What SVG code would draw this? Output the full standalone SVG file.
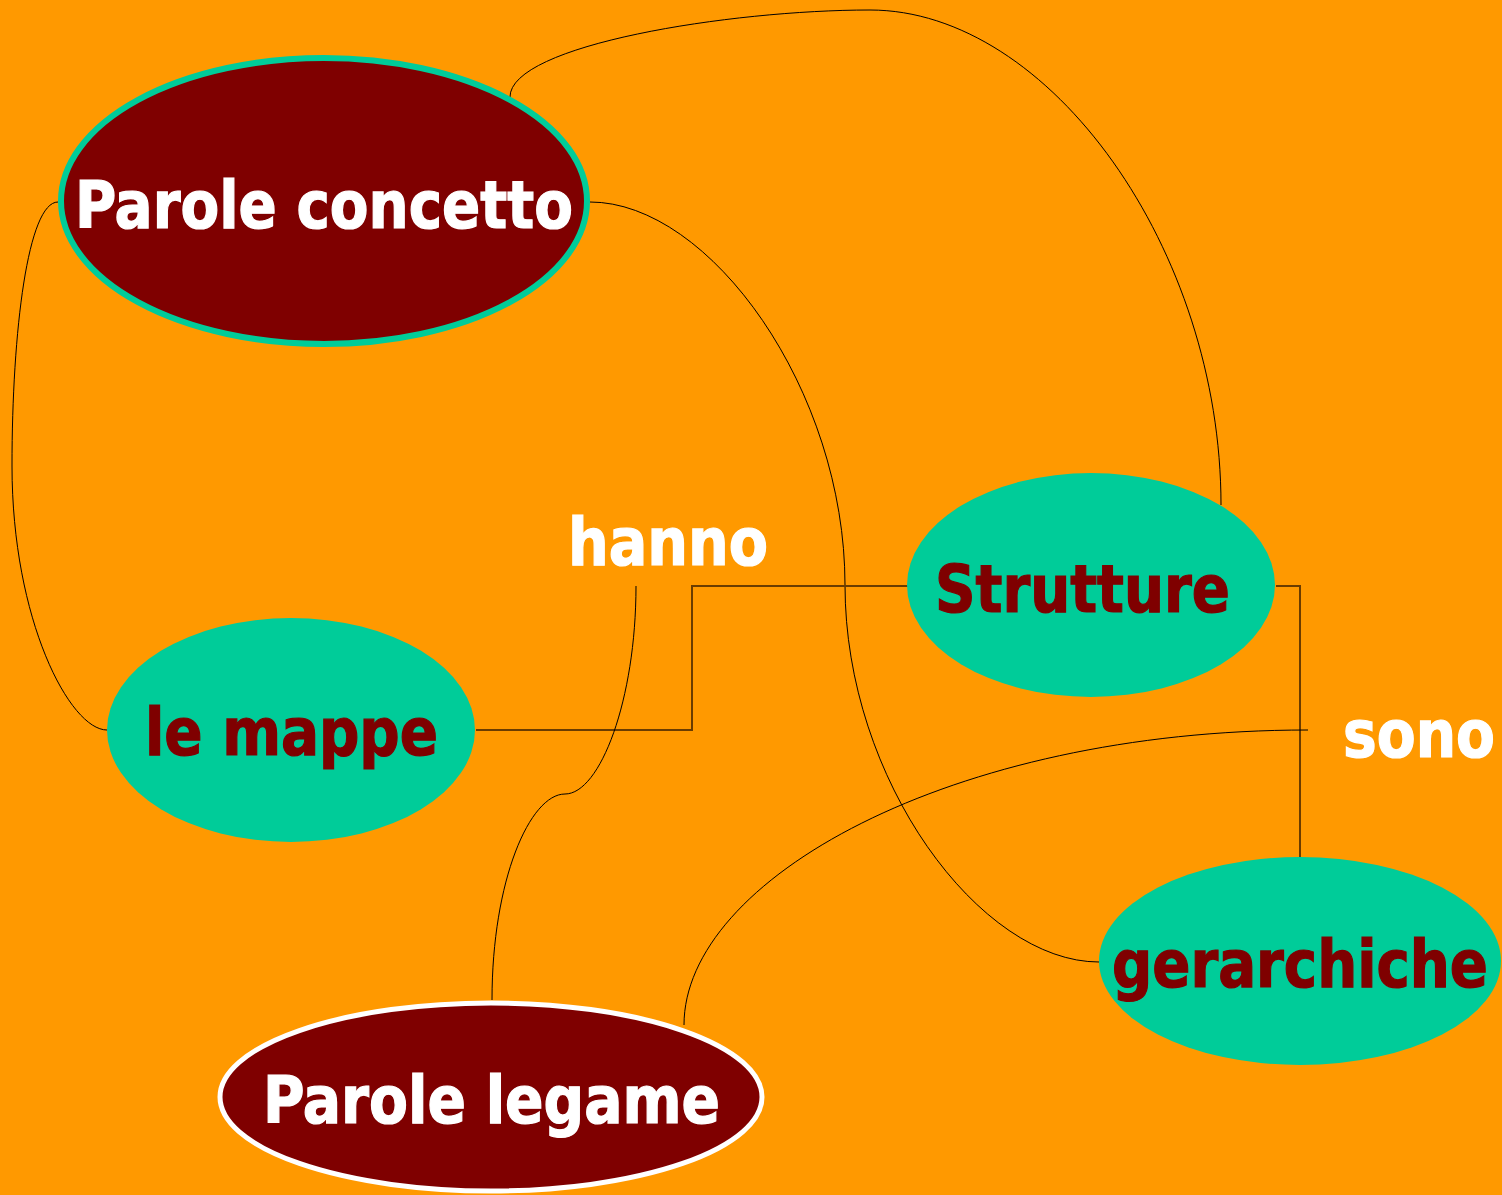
<svg xmlns="http://www.w3.org/2000/svg" width="1502" height="1195" viewBox="0 0 1502 1195">
<style>
.t{font-family:"DejaVu Sans Condensed","DejaVu Sans",Verdana,sans-serif;font-weight:bold;font-size:66px;stroke-width:1.2}
.w{fill:#FFFFFF;stroke:#FFFFFF}
.r{fill:#7F0000;stroke:#7F0000}
.c{fill:none;stroke:#000000;stroke-width:1}
.p{fill:none;stroke:#6a3c00;stroke-width:2}
</style>
<rect x="0" y="0" width="1502" height="1195" fill="#FF9900"/>
<g id="connectors">
<path class="c" d="M510,97 C510,45 730,10 870,10 C1050,10 1221,250 1221,505"/>
<path class="c" d="M590,202 C710,202 845,390 845,585 C845,780 980,962 1099,962"/>
<path class="c" d="M58,202 C28,202 12,330 12,466 C12,620 70,730 107,730"/>
<polyline class="p" points="476,730 692,730 692,586 908,586"/>
<polyline class="p" points="1276,586 1300,586 1300,857"/>
<path class="c" d="M636,586 C636,700 600,794 565,794 C530,794 492,880 492,1000"/>
<path class="c" d="M1308,730 C950,730 684,880 684,1025"/>
</g>
<g id="parole-concetto">
<ellipse cx="324" cy="201" rx="263" ry="143" fill="#7F0000" stroke="#00CC99" stroke-width="6"/>
<text class="t w" x="75" y="228" textLength="498" lengthAdjust="spacingAndGlyphs">Parole concetto</text>
</g>
<g id="hanno">
<text class="t w" x="568" y="565" textLength="200" lengthAdjust="spacingAndGlyphs">hanno</text>
</g>
<g id="strutture">
<ellipse cx="1091" cy="585" rx="184" ry="112" fill="#00CC99"/>
<text class="t r" x="935" y="612" textLength="295" lengthAdjust="spacingAndGlyphs">Strutture</text>
</g>
<g id="le-mappe">
<ellipse cx="291" cy="730" rx="184" ry="112" fill="#00CC99"/>
<text class="t r" x="145" y="755" textLength="293" lengthAdjust="spacingAndGlyphs">le mappe</text>
</g>
<g id="sono">
<text class="t w" x="1343" y="757" textLength="152" lengthAdjust="spacingAndGlyphs">sono</text>
</g>
<g id="gerarchiche">
<ellipse cx="1300" cy="961" rx="201" ry="104" fill="#00CC99"/>
<text class="t r" x="1112" y="987" textLength="376" lengthAdjust="spacingAndGlyphs">gerarchiche</text>
</g>
<g id="parole-legame">
<ellipse cx="491" cy="1097" rx="271" ry="94" fill="#7F0000" stroke="#FFFFFF" stroke-width="5"/>
<text class="t w" x="263" y="1123" textLength="457" lengthAdjust="spacingAndGlyphs">Parole legame</text>
</g>
</svg>
